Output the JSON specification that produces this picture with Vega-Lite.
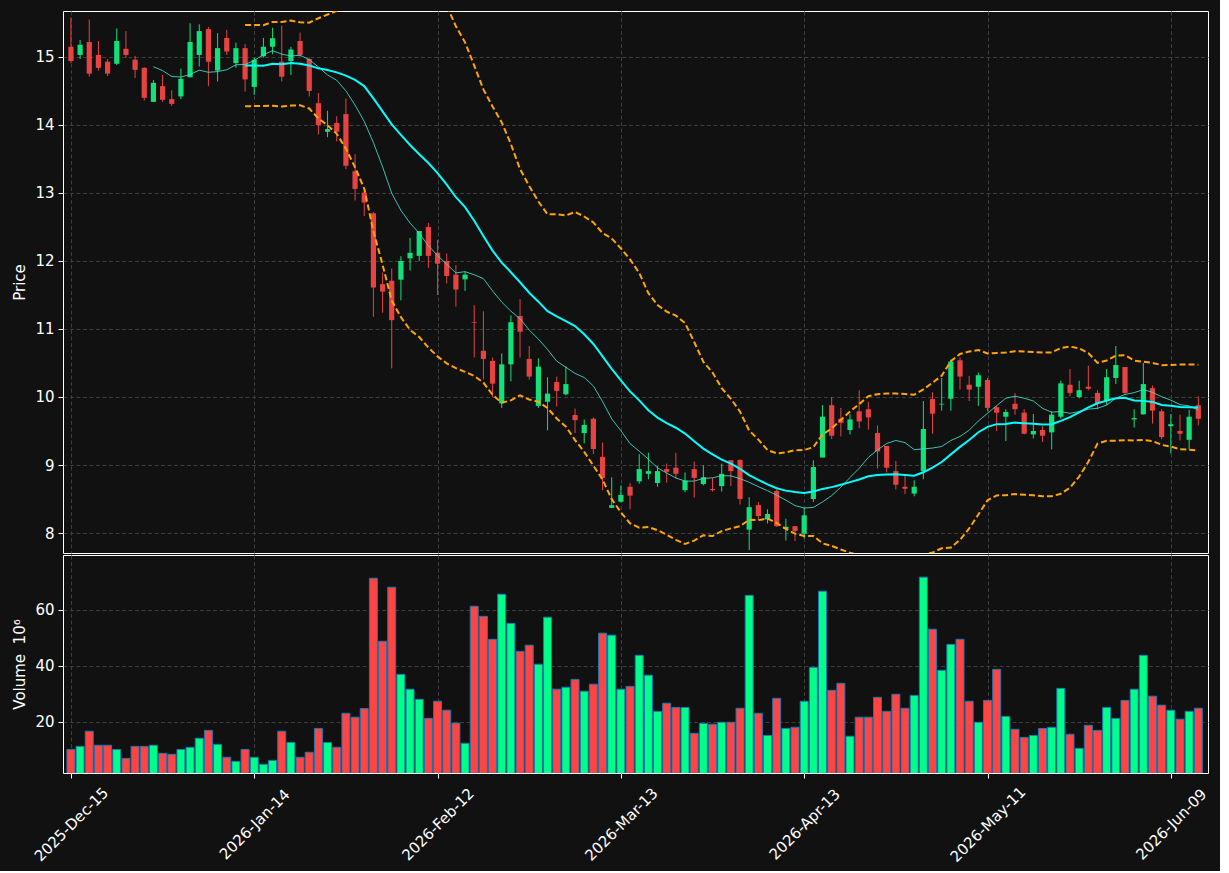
{
  "$schema": "https://vega.github.io/schema/vega-lite/v6.json",
  "background": "#111111",
  "padding": {"left": 12, "top": 10, "right": 10, "bottom": 5},
  "spacing": 0,
  "config": {
    "font": "DejaVu Sans",
    "view": {"stroke": "#ffffff", "strokeWidth": 1, "fill": "#111111"},
    "axis": {
      "labelColor": "#ffffff", "titleColor": "#ffffff", "tickColor": "#ffffff",
      "gridColor": "#3d3d3d", "gridDash": [4, 2.5], "gridWidth": 1, "domain": false,
      "labelFont": "DejaVu Sans", "titleFont": "DejaVu Sans",
      "labelFontSize": 15, "titleFontSize": 15, "titleFontWeight": "normal",
      "tickSize": 5, "labelPadding": 4, "titlePadding": 7
    }
  },
  "datasets": {
    "px": [
      {"i":0,"d":"2025-12-15","o":15.15,"h":15.58,"l":14.91,"c":14.94,"v":10.2},
      {"i":1,"d":"2025-12-16","o":15.03,"h":15.25,"l":14.97,"c":15.18,"v":11.3},
      {"i":2,"d":"2025-12-17","o":15.22,"h":15.55,"l":14.71,"c":14.755,"v":16.7},
      {"i":3,"d":"2025-12-18","o":15.03,"h":15.235,"l":14.8,"c":14.84,"v":11.7},
      {"i":4,"d":"2025-12-19","o":14.93,"h":14.97,"l":14.72,"c":14.755,"v":11.7},
      {"i":5,"d":"2025-12-22","o":14.9,"h":15.42,"l":14.88,"c":15.235,"v":10.2},
      {"i":6,"d":"2025-12-23","o":15.12,"h":15.38,"l":14.99,"c":15.03,"v":7.0},
      {"i":7,"d":"2025-12-24","o":14.96,"h":15.015,"l":14.69,"c":14.81,"v":11.3},
      {"i":8,"d":"2025-12-26","o":14.84,"h":14.85,"l":14.36,"c":14.4,"v":11.3},
      {"i":9,"d":"2025-12-29","o":14.34,"h":14.66,"l":14.34,"c":14.62,"v":11.7},
      {"i":10,"d":"2025-12-30","o":14.57,"h":14.735,"l":14.34,"c":14.37,"v":8.8},
      {"i":11,"d":"2025-12-31","o":14.38,"h":14.51,"l":14.28,"c":14.31,"v":8.45},
      {"i":12,"d":"2026-01-02","o":14.42,"h":14.83,"l":14.38,"c":14.68,"v":10.2},
      {"i":13,"d":"2026-01-05","o":14.7,"h":15.495,"l":14.7,"c":15.22,"v":10.95},
      {"i":14,"d":"2026-01-06","o":15.03,"h":15.48,"l":14.86,"c":15.38,"v":14.2},
      {"i":15,"d":"2026-01-07","o":15.41,"h":15.44,"l":14.57,"c":14.93,"v":17.0},
      {"i":16,"d":"2026-01-08","o":14.8,"h":15.35,"l":14.64,"c":15.13,"v":12.0},
      {"i":17,"d":"2026-01-09","o":15.28,"h":15.4,"l":15.03,"c":15.08,"v":7.4},
      {"i":18,"d":"2026-01-12","o":14.91,"h":15.21,"l":14.84,"c":15.13,"v":5.95},
      {"i":19,"d":"2026-01-13","o":15.13,"h":15.19,"l":14.49,"c":14.67,"v":10.2},
      {"i":20,"d":"2026-01-14","o":14.56,"h":14.99,"l":14.44,"c":14.96,"v":7.4},
      {"i":21,"d":"2026-01-15","o":15.01,"h":15.28,"l":14.99,"c":15.15,"v":4.9},
      {"i":22,"d":"2026-01-16","o":15.15,"h":15.43,"l":15.04,"c":15.275,"v":6.3},
      {"i":23,"d":"2026-01-20","o":14.93,"h":15.46,"l":14.64,"c":14.71,"v":16.7},
      {"i":24,"d":"2026-01-21","o":14.94,"h":15.15,"l":14.735,"c":15.11,"v":12.7},
      {"i":25,"d":"2026-01-22","o":15.235,"h":15.36,"l":15.005,"c":15.03,"v":7.4},
      {"i":26,"d":"2026-01-23","o":14.97,"h":14.99,"l":14.42,"c":14.5,"v":9.2},
      {"i":27,"d":"2026-01-26","o":14.32,"h":14.47,"l":13.86,"c":14.0,"v":17.7},
      {"i":28,"d":"2026-01-27","o":13.9,"h":14.21,"l":13.82,"c":13.94,"v":12.7},
      {"i":29,"d":"2026-01-28","o":14.03,"h":14.13,"l":13.76,"c":13.9,"v":10.95},
      {"i":30,"d":"2026-01-29","o":14.16,"h":14.39,"l":13.35,"c":13.4,"v":23.1},
      {"i":31,"d":"2026-01-30","o":13.32,"h":13.57,"l":12.89,"c":13.06,"v":21.7},
      {"i":32,"d":"2026-02-02","o":13.005,"h":13.03,"l":12.66,"c":12.86,"v":24.8},
      {"i":33,"d":"2026-02-03","o":12.7,"h":12.72,"l":11.18,"c":11.61,"v":71.3},
      {"i":34,"d":"2026-02-04","o":11.66,"h":11.83,"l":11.24,"c":11.55,"v":48.8},
      {"i":35,"d":"2026-02-05","o":11.71,"h":11.89,"l":10.42,"c":11.13,"v":68.1},
      {"i":36,"d":"2026-02-06","o":11.725,"h":12.07,"l":11.42,"c":12.0,"v":37.0},
      {"i":37,"d":"2026-02-09","o":12.04,"h":12.34,"l":11.86,"c":12.12,"v":31.7},
      {"i":38,"d":"2026-02-10","o":12.075,"h":12.44,"l":12.0,"c":12.44,"v":28.1},
      {"i":39,"d":"2026-02-11","o":12.5,"h":12.56,"l":11.9,"c":12.075,"v":21.3},
      {"i":40,"d":"2026-02-12","o":12.12,"h":12.31,"l":11.5,"c":11.96,"v":27.4},
      {"i":41,"d":"2026-02-13","o":12.0,"h":12.11,"l":11.67,"c":11.78,"v":24.2},
      {"i":42,"d":"2026-02-17","o":11.8,"h":11.94,"l":11.33,"c":11.58,"v":19.6},
      {"i":43,"d":"2026-02-18","o":11.73,"h":11.84,"l":11.56,"c":11.8,"v":12.4},
      {"i":44,"d":"2026-02-19","o":11.1,"h":11.35,"l":10.58,"c":11.09,"v":61.3},
      {"i":45,"d":"2026-02-20","o":10.68,"h":11.26,"l":10.26,"c":10.56,"v":57.7},
      {"i":46,"d":"2026-02-23","o":10.53,"h":10.58,"l":10.0,"c":10.196,"v":49.5},
      {"i":47,"d":"2026-02-24","o":9.907,"h":10.64,"l":9.84,"c":10.48,"v":65.6},
      {"i":48,"d":"2026-02-25","o":10.48,"h":11.2,"l":10.23,"c":11.1,"v":55.2},
      {"i":49,"d":"2026-02-26","o":11.19,"h":11.44,"l":10.58,"c":10.96,"v":45.2},
      {"i":50,"d":"2026-02-27","o":10.56,"h":10.75,"l":10.255,"c":10.3,"v":47.4},
      {"i":51,"d":"2026-03-02","o":9.87,"h":10.57,"l":9.84,"c":10.446,"v":40.6},
      {"i":52,"d":"2026-03-03","o":9.93,"h":10.29,"l":9.51,"c":10.05,"v":57.4},
      {"i":53,"d":"2026-03-04","o":10.22,"h":10.3,"l":9.86,"c":10.09,"v":31.7},
      {"i":54,"d":"2026-03-05","o":10.04,"h":10.45,"l":10.025,"c":10.19,"v":32.4},
      {"i":55,"d":"2026-03-06","o":9.735,"h":9.83,"l":9.47,"c":9.66,"v":35.2},
      {"i":56,"d":"2026-03-09","o":9.47,"h":9.67,"l":9.32,"c":9.59,"v":31.0},
      {"i":57,"d":"2026-03-10","o":9.68,"h":9.7,"l":9.16,"c":9.235,"v":33.5},
      {"i":58,"d":"2026-03-11","o":9.12,"h":9.33,"l":8.63,"c":8.81,"v":51.7},
      {"i":59,"d":"2026-03-12","o":8.37,"h":8.82,"l":8.37,"c":8.41,"v":51.0},
      {"i":60,"d":"2026-03-13","o":8.46,"h":8.7,"l":8.45,"c":8.56,"v":31.7},
      {"i":61,"d":"2026-03-16","o":8.68,"h":8.735,"l":8.35,"c":8.55,"v":32.7},
      {"i":62,"d":"2026-03-17","o":8.76,"h":9.16,"l":8.725,"c":8.94,"v":43.8},
      {"i":63,"d":"2026-03-18","o":8.87,"h":9.18,"l":8.79,"c":8.91,"v":36.7},
      {"i":64,"d":"2026-03-19","o":8.735,"h":8.985,"l":8.68,"c":8.91,"v":23.8},
      {"i":65,"d":"2026-03-20","o":8.94,"h":9.02,"l":8.74,"c":8.9,"v":26.7},
      {"i":66,"d":"2026-03-23","o":8.96,"h":9.18,"l":8.8,"c":8.87,"v":25.2},
      {"i":67,"d":"2026-03-24","o":8.63,"h":8.89,"l":8.6,"c":8.77,"v":25.2},
      {"i":68,"d":"2026-03-25","o":8.94,"h":9.05,"l":8.52,"c":8.81,"v":15.95},
      {"i":69,"d":"2026-03-26","o":8.72,"h":8.995,"l":8.7,"c":8.82,"v":19.5},
      {"i":70,"d":"2026-03-27","o":8.647,"h":8.81,"l":8.61,"c":8.63,"v":19.2},
      {"i":71,"d":"2026-03-30","o":8.69,"h":9.02,"l":8.61,"c":8.87,"v":19.9},
      {"i":72,"d":"2026-03-31","o":9.07,"h":9.07,"l":8.69,"c":8.91,"v":19.9},
      {"i":73,"d":"2026-04-01","o":9.075,"h":9.08,"l":8.42,"c":8.5,"v":24.9},
      {"i":74,"d":"2026-04-02","o":8.05,"h":8.525,"l":7.75,"c":8.38,"v":65.2},
      {"i":75,"d":"2026-04-06","o":8.41,"h":8.455,"l":8.19,"c":8.25,"v":23.1},
      {"i":76,"d":"2026-04-07","o":8.2,"h":8.35,"l":8.14,"c":8.28,"v":15.2},
      {"i":77,"d":"2026-04-08","o":8.62,"h":8.64,"l":8.09,"c":8.1,"v":28.45},
      {"i":78,"d":"2026-04-09","o":8.06,"h":8.21,"l":7.89,"c":8.09,"v":17.7},
      {"i":79,"d":"2026-04-10","o":8.1,"h":8.1,"l":7.88,"c":8.03,"v":18.1},
      {"i":80,"d":"2026-04-13","o":7.99,"h":8.37,"l":7.92,"c":8.26,"v":27.4},
      {"i":81,"d":"2026-04-14","o":8.5,"h":9.07,"l":8.456,"c":8.97,"v":39.5},
      {"i":82,"d":"2026-04-15","o":9.11,"h":9.88,"l":9.11,"c":9.71,"v":66.7},
      {"i":83,"d":"2026-04-16","o":9.88,"h":10.0,"l":9.38,"c":9.43,"v":31.3},
      {"i":84,"d":"2026-04-17","o":9.68,"h":9.84,"l":9.42,"c":9.62,"v":33.8},
      {"i":85,"d":"2026-04-20","o":9.515,"h":9.745,"l":9.45,"c":9.67,"v":14.9},
      {"i":86,"d":"2026-04-21","o":9.79,"h":10.1,"l":9.54,"c":9.64,"v":21.7},
      {"i":87,"d":"2026-04-22","o":9.82,"h":9.93,"l":9.52,"c":9.7,"v":21.7},
      {"i":88,"d":"2026-04-23","o":9.47,"h":9.58,"l":8.95,"c":9.2,"v":28.8},
      {"i":89,"d":"2026-04-24","o":9.28,"h":9.28,"l":8.89,"c":8.96,"v":23.8},
      {"i":90,"d":"2026-04-27","o":8.91,"h":9.06,"l":8.64,"c":8.71,"v":29.9},
      {"i":91,"d":"2026-04-28","o":8.68,"h":8.86,"l":8.57,"c":8.65,"v":24.9},
      {"i":92,"d":"2026-04-29","o":8.58,"h":8.775,"l":8.54,"c":8.68,"v":29.5},
      {"i":93,"d":"2026-04-30","o":8.91,"h":9.94,"l":8.79,"c":9.53,"v":71.7},
      {"i":94,"d":"2026-05-01","o":9.97,"h":10.07,"l":9.46,"c":9.755,"v":53.1},
      {"i":95,"d":"2026-05-04","o":9.89,"h":10.28,"l":9.8,"c":9.9,"v":38.45},
      {"i":96,"d":"2026-05-05","o":9.975,"h":10.55,"l":9.8,"c":10.52,"v":47.7},
      {"i":97,"d":"2026-05-06","o":10.54,"h":10.58,"l":10.11,"c":10.3,"v":49.5},
      {"i":98,"d":"2026-05-07","o":10.18,"h":10.31,"l":9.94,"c":10.11,"v":27.4},
      {"i":99,"d":"2026-05-08","o":10.15,"h":10.36,"l":9.87,"c":10.32,"v":19.9},
      {"i":100,"d":"2026-05-11","o":10.25,"h":10.28,"l":9.79,"c":9.84,"v":27.7},
      {"i":101,"d":"2026-05-12","o":9.85,"h":9.87,"l":9.5,"c":9.77,"v":38.8},
      {"i":102,"d":"2026-05-13","o":9.71,"h":9.82,"l":9.35,"c":9.78,"v":22.0},
      {"i":103,"d":"2026-05-14","o":9.9,"h":10.06,"l":9.74,"c":9.82,"v":17.4},
      {"i":104,"d":"2026-05-15","o":9.77,"h":9.82,"l":9.45,"c":9.46,"v":14.5},
      {"i":105,"d":"2026-05-18","o":9.45,"h":9.75,"l":9.39,"c":9.5,"v":15.2},
      {"i":106,"d":"2026-05-19","o":9.515,"h":9.57,"l":9.34,"c":9.43,"v":17.7},
      {"i":107,"d":"2026-05-20","o":9.48,"h":9.79,"l":9.23,"c":9.74,"v":18.1},
      {"i":108,"d":"2026-05-21","o":9.71,"h":10.24,"l":9.68,"c":10.2,"v":32.0},
      {"i":109,"d":"2026-05-22","o":10.18,"h":10.41,"l":10.01,"c":10.06,"v":15.6},
      {"i":110,"d":"2026-05-26","o":10.0,"h":10.24,"l":9.98,"c":10.1,"v":10.6},
      {"i":111,"d":"2026-05-27","o":10.15,"h":10.46,"l":10.1,"c":10.12,"v":18.8},
      {"i":112,"d":"2026-05-28","o":10.06,"h":10.1,"l":9.82,"c":9.91,"v":17.0},
      {"i":113,"d":"2026-05-29","o":9.94,"h":10.41,"l":9.88,"c":10.29,"v":25.2},
      {"i":114,"d":"2026-06-01","o":10.28,"h":10.75,"l":10.19,"c":10.47,"v":21.3},
      {"i":115,"d":"2026-06-02","o":10.44,"h":10.44,"l":10.04,"c":10.06,"v":27.7},
      {"i":116,"d":"2026-06-03","o":9.67,"h":9.82,"l":9.55,"c":9.69,"v":31.7},
      {"i":117,"d":"2026-06-04","o":9.745,"h":10.5,"l":9.74,"c":10.19,"v":43.8},
      {"i":118,"d":"2026-06-05","o":10.13,"h":10.17,"l":9.61,"c":9.8,"v":29.2},
      {"i":119,"d":"2026-06-08","o":9.79,"h":9.82,"l":9.38,"c":9.41,"v":26.0},
      {"i":120,"d":"2026-06-09","o":9.57,"h":9.75,"l":9.17,"c":9.6,"v":24.2},
      {"i":121,"d":"2026-06-10","o":9.5,"h":9.74,"l":9.36,"c":9.46,"v":21.0},
      {"i":122,"d":"2026-06-11","o":9.37,"h":9.81,"l":9.23,"c":9.71,"v":23.8},
      {"i":123,"d":"2026-06-12","o":9.88,"h":10.01,"l":9.58,"c":9.68,"v":24.9}
    ]
  },
  "vconcat": [
    {
      "width": 1145,
      "height": 542,
      "data": {"name": "px"},
      "transform": [
        {"window": [{"op": "mean", "field": "c", "as": "ma10"}, {"op": "count", "field": "c", "as": "n10"}], "frame": [-9, 0], "sort": [{"field": "i"}]},
        {"window": [{"op": "mean", "field": "c", "as": "ma20"}, {"op": "stdevp", "field": "c", "as": "sd20"}, {"op": "count", "field": "c", "as": "n20"}], "frame": [-19, 0], "sort": [{"field": "i"}]},
        {"calculate": "datum.ma20 + 2 * datum.sd20", "as": "bbu"},
        {"calculate": "datum.ma20 - 2 * datum.sd20", "as": "bbl"}
      ],
      "encoding": {
        "x": {
          "field": "i", "type": "quantitative",
          "scale": {"domain": [-0.32, 123.51], "nice": false, "zero": false},
          "axis": {"values": [0, 20, 40, 60, 80, 100, 120], "labels": false, "ticks": false, "title": null, "grid": true}
        }
      },
      "layer": [
        {
          "mark": {"type": "rule", "strokeWidth": 1, "clip": true},
          "encoding": {
            "y": {"field": "l", "type": "quantitative", "title": "Price", "scale": {"domain": [7.706, 15.676], "nice": false, "zero": false},
                  "axis": {"values": [8, 9, 10, 11, 12, 13, 14, 15], "format": "d", "title": "Price", "grid": true, "labelFontSize": 15, "titleFontSize": 15, "labelFont": "DejaVu Sans", "titleFont": "DejaVu Sans"}},
            "y2": {"field": "h"},
            "color": {"condition": {"test": "datum.c >= datum.o", "value": "#12e07a"}, "value": "#e84343"}
          }
        },
        {
          "mark": {"type": "bar", "width": 5.2, "clip": true},
          "encoding": {
            "y": {"field": "o", "type": "quantitative", "title": "Price", "axis": {"values": [8, 9, 10, 11, 12, 13, 14, 15], "format": "d", "title": "Price", "grid": true, "labelFontSize": 15, "titleFontSize": 15, "labelFont": "DejaVu Sans", "titleFont": "DejaVu Sans"}},
            "y2": {"field": "c"},
            "color": {"condition": {"test": "datum.c >= datum.o", "value": "#12e07a"}, "value": "#e84343"}
          }
        },
        {
          "transform": [{"filter": "datum.n10 >= 10"}],
          "mark": {"type": "line", "color": "#40e0d0", "strokeWidth": 1, "opacity": 0.85, "clip": true},
          "encoding": {"y": {"field": "ma10", "type": "quantitative", "title": "Price", "axis": {"values": [8, 9, 10, 11, 12, 13, 14, 15], "format": "d", "title": "Price", "grid": true, "labelFontSize": 15, "titleFontSize": 15, "labelFont": "DejaVu Sans", "titleFont": "DejaVu Sans"}}}
        },
        {
          "transform": [{"filter": "datum.n20 >= 20"}],
          "mark": {"type": "line", "color": "#ffa500", "strokeWidth": 2, "strokeDash": [6, 3], "clip": true},
          "encoding": {"y": {"field": "bbu", "type": "quantitative", "title": "Price", "axis": {"values": [8, 9, 10, 11, 12, 13, 14, 15], "format": "d", "title": "Price", "grid": true, "labelFontSize": 15, "titleFontSize": 15, "labelFont": "DejaVu Sans", "titleFont": "DejaVu Sans"}}}
        },
        {
          "transform": [{"filter": "datum.n20 >= 20"}],
          "mark": {"type": "line", "color": "#ffa500", "strokeWidth": 2, "strokeDash": [6, 3], "clip": true},
          "encoding": {"y": {"field": "bbl", "type": "quantitative", "title": "Price", "axis": {"values": [8, 9, 10, 11, 12, 13, 14, 15], "format": "d", "title": "Price", "grid": true, "labelFontSize": 15, "titleFontSize": 15, "labelFont": "DejaVu Sans", "titleFont": "DejaVu Sans"}}}
        },
        {
          "transform": [{"filter": "datum.n20 >= 20"}],
          "mark": {"type": "line", "color": "#00ffff", "strokeWidth": 2, "clip": true},
          "encoding": {"y": {"field": "ma20", "type": "quantitative", "title": "Price", "axis": {"values": [8, 9, 10, 11, 12, 13, 14, 15], "format": "d", "title": "Price", "grid": true, "labelFontSize": 15, "titleFontSize": 15, "labelFont": "DejaVu Sans", "titleFont": "DejaVu Sans"}}}
        }
      ]
    },
    {
      "width": 1145,
      "height": 218,
      "data": {"name": "px"},
      "mark": {"type": "bar", "width": 8, "stroke": "#1f77b4", "strokeWidth": 1, "clip": true},
      "encoding": {
        "x": {
          "field": "i", "type": "quantitative",
          "scale": {"domain": [-0.32, 123.51], "nice": false, "zero": false},
          "axis": {
            "values": [0, 20, 40, 60, 80, 100, 120], "title": null, "grid": true,
            "labelExpr": "['2025-Dec-15','2026-Jan-14','2026-Feb-12','2026-Mar-13','2026-Apr-13','2026-May-11','2026-Jun-09'][round(datum.value / 20)]",
            "labelAngle": -45, "labelAlign": "center", "labelBaseline": "middle", "labelPadding": 46,
            "labelOverlap": false, "labelBound": false, "labelFlush": false,
            "labelFontSize": 15, "labelFont": "DejaVu Sans"
          }
        },
        "y": {
          "field": "v", "type": "quantitative",
          "scale": {"domain": [1.79, 79.6], "nice": false, "zero": false},
          "axis": {"values": [20, 40, 60], "format": "d", "title": "Volume\u00a0\u00a010⁶", "grid": true, "labelFontSize": 15, "titleFontSize": 15, "labelFont": "DejaVu Sans", "titleFont": "DejaVu Sans"}
        },
        "color": {"condition": {"test": "datum.c >= datum.o", "value": "#00ff88"}, "value": "#ff4444"}
      }
    }
  ]
}
